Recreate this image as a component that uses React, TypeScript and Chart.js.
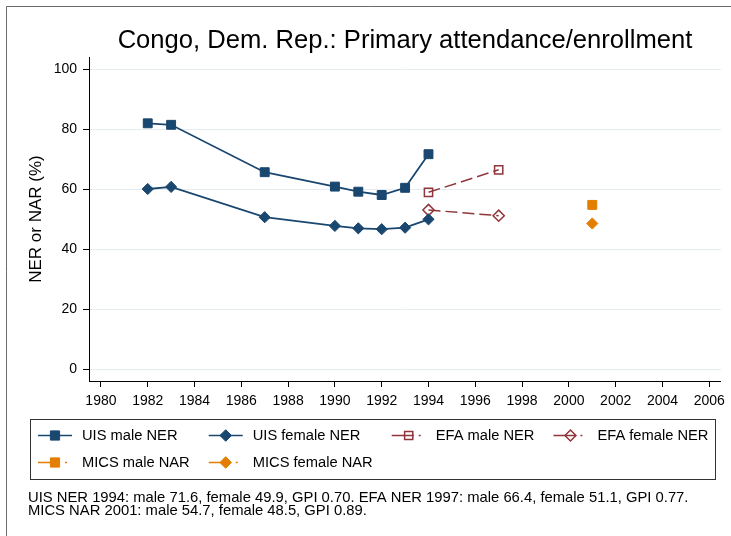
import React, { useEffect, useRef } from "react";
import { Chart, registerables } from "chart.js";

Chart.register(...registerables);

// ---------- data ----------
const titleText = "Congo, Dem. Rep.: Primary attendance/enrollment";
const yAxisTitle = "NER or NAR (%)";

const uisYears = [1982, 1983, 1987, 1990, 1991, 1992, 1993, 1994];
const uisMale = [81.9, 81.4, 65.6, 60.8, 59.1, 58.0, 60.4, 71.6];
const uisFemale = [60.0, 60.7, 50.6, 47.7, 46.9, 46.6, 47.1, 49.9];

const efaYears = [1994, 1997];
const efaMale = [58.9, 66.4];
const efaFemale = [53.0, 51.1];

const micsYears = [2001];
const micsMale = [54.7];
const micsFemale = [48.5];

const xTicks = [1980, 1982, 1984, 1986, 1988, 1990, 1992, 1994, 1996, 1998, 2000, 2002, 2004, 2006];
const yTicks = [0, 20, 40, 60, 80, 100];

const seriesLabels = [
  "UIS male NER",
  "UIS female NER",
  "EFA male NER",
  "EFA female NER",
  "MICS male NAR",
  "MICS female NAR",
];

const noteLines = [
  "UIS NER 1994: male 71.6, female 49.9, GPI 0.70. EFA NER 1997: male 66.4, female 51.1, GPI 0.77.",
  "MICS NAR 2001: male 54.7, female 48.5, GPI 0.89.",
];

// ---------- styles ----------
const FONT = '"Liberation Sans", Arial, Helvetica, sans-serif';
const NAVY = "#1a476f";
const MAROON = "#90353b";
const ORANGE = "#e37e00";
const GRID = "#e6edf1";

type Style = { color: string; marker: "square" | "diamond"; filled: boolean; dash: number[] };
const styles: Style[] = [
  { color: NAVY, marker: "square", filled: true, dash: [] },
  { color: NAVY, marker: "diamond", filled: true, dash: [] },
  { color: MAROON, marker: "square", filled: false, dash: [12, 5] },
  { color: MAROON, marker: "diamond", filled: false, dash: [12, 5] },
  { color: ORANGE, marker: "square", filled: true, dash: [12, 5] },
  { color: ORANGE, marker: "diamond", filled: true, dash: [12, 5] },
];

const seriesData: [number[], number[]][] = [
  [uisYears, uisMale],
  [uisYears, uisFemale],
  [efaYears, efaMale],
  [efaYears, efaFemale],
  [micsYears, micsMale],
  [micsYears, micsFemale],
];

function drawMarker(ctx: CanvasRenderingContext2D, st: Style, x: number, y: number) {
  ctx.save();
  ctx.setLineDash([]);
  ctx.beginPath();
  if (st.marker === "square") {
    const h = st.filled ? 4.6 : 4.1;
    ctx.rect(x - h, y - h, 2 * h, 2 * h);
  } else {
    const r = st.filled ? 5.8 : 5.5;
    ctx.moveTo(x - r, y);
    ctx.lineTo(x, y - r);
    ctx.lineTo(x + r, y);
    ctx.lineTo(x, y + r);
    ctx.closePath();
  }
  if (st.filled) {
    ctx.fillStyle = st.color;
    ctx.fill();
    ctx.strokeStyle = st.color;
    ctx.lineWidth = 1;
    ctx.stroke();
  } else {
    ctx.strokeStyle = st.color;
    ctx.lineWidth = 1.5;
    ctx.stroke();
  }
  ctx.restore();
}

const decorPlugin = {
  id: "decor",
  afterDraw(chart: any) {
    const ctx: CanvasRenderingContext2D = chart.ctx;
    const area = chart.chartArea;
    ctx.save();

    // outer frame
    ctx.strokeStyle = "#6b6b6b";
    ctx.lineWidth = 1;
    ctx.setLineDash([]);
    ctx.beginPath();
    ctx.moveTo(6.5, 900);
    ctx.lineTo(6.5, 6.5);
    ctx.lineTo(900, 6.5);
    ctx.stroke();

    // title
    ctx.fillStyle = "#000";
    ctx.font = `25.6px ${FONT}`;
    ctx.textAlign = "center";
    ctx.textBaseline = "alphabetic";
    ctx.fillText(titleText, (area.left + area.right) / 2, 48);

    // y axis title
    ctx.save();
    ctx.translate(40.7, (area.top + area.bottom) / 2);
    ctx.rotate(-Math.PI / 2);
    ctx.font = `17px ${FONT}`;
    ctx.textAlign = "center";
    ctx.fillText(yAxisTitle, 0, 0);
    ctx.restore();

    // legend
    const box = { left: 30, top: 419, right: 715, bottom: 479 };
    ctx.strokeStyle = "#333";
    ctx.lineWidth = 1;
    ctx.strokeRect(box.left + 0.5, box.top + 0.5, box.right - box.left, box.bottom - box.top);

    const legendFont = `14.7px ${FONT}`;
    ctx.font = legendFont;
    const nCols = 4;
    const rowsY = [435, 462];
    const sampleW = 34;
    const sampleGap = 10;
    const colGap = 19;
    const colX: number[] = [];
    let cx = 38;
    for (let c = 0; c < nCols; c++) {
      colX.push(cx);
      let maxW = 0;
      for (let i = c; i < seriesLabels.length; i += nCols) {
        maxW = Math.max(maxW, ctx.measureText(seriesLabels[i]).width);
      }
      cx += sampleW + sampleGap + maxW + colGap;
    }
    seriesLabels.forEach((label, i) => {
      const c = i % nCols;
      const r = Math.floor(i / nCols);
      const x0 = colX[c];
      const y = rowsY[r];
      const st = styles[i];
      ctx.save();
      ctx.strokeStyle = st.color;
      ctx.lineWidth = 1.6;
      ctx.setLineDash(st.dash.length ? [22, 5, 2, 5] : []);
      ctx.beginPath();
      ctx.moveTo(x0, y + 0.5);
      ctx.lineTo(x0 + sampleW, y + 0.5);
      ctx.stroke();
      ctx.restore();
      drawMarker(ctx, st, x0 + 17, y + 0.5);
      ctx.fillStyle = "#000";
      ctx.font = legendFont;
      ctx.textAlign = "left";
      ctx.textBaseline = "middle";
      ctx.fillText(label, x0 + sampleW + sampleGap, y + 1);
    });

    // notes
    ctx.font = `14.8px ${FONT}`;
    ctx.textAlign = "left";
    ctx.textBaseline = "alphabetic";
    ctx.fillStyle = "#000";
    ctx.fillText(noteLines[0], 28, 501.7);
    ctx.fillText(noteLines[1], 28, 515);

    ctx.restore();
  },
};

export default function App() {
  const ref = useRef<HTMLCanvasElement>(null);

  useEffect(() => {
    const canvas = ref.current;
    if (!canvas) return;
    const datasets = seriesData.map(([xs, ys], i) => {
      const st = styles[i];
      return {
        label: seriesLabels[i],
        data: xs.map((x, j) => ({ x, y: ys[j] })),
        borderColor: st.color,
        borderWidth: st.filled && st.dash.length === 0 ? 1.8 : 1.5,
        borderDash: st.dash,
        pointStyle: st.marker === "square" ? "rect" : "rectRot",
        pointRadius: st.marker === "square" ? (st.filled ? 6.3 : 5.8) : 5.6,
        pointBorderWidth: st.filled ? 1 : 1.5,
        pointBackgroundColor: st.filled ? st.color : "rgba(0,0,0,0)",
        pointBorderColor: st.color,
        fill: false,
        tension: 0,
      };
    });

    const chart = new Chart(canvas, {
      type: "line",
      data: { datasets: datasets as any },
      options: {
        responsive: false,
        devicePixelRatio: 1,
        animation: false,
        events: [],
        layout: { padding: { left: 0, top: 57, right: 9, bottom: 115 } },
        plugins: {
          legend: { display: false },
          title: { display: false },
          tooltip: { enabled: false },
        },
        scales: {
          x: {
            type: "linear",
            min: 1979.49,
            max: 2006.5,
            afterBuildTicks: (s: any) => {
              s.ticks = xTicks.map((v) => ({ value: v }));
            },
            afterFit: (s: any) => {
              s.height = 40;
            },
            grid: {
              drawOnChartArea: false,
              drawTicks: true,
              tickLength: 6,
              tickColor: "#000",
              tickWidth: 1,
            },
            border: { display: true, color: "#000", width: 1 },
            ticks: {
              font: { family: FONT, size: 14 },
              color: "#000",
              padding: 6,
              maxRotation: 0,
              autoSkip: false,
              callback: (v: any) => String(v),
            },
          },
          y: {
            type: "linear",
            min: -4,
            max: 104,
            afterBuildTicks: (s: any) => {
              s.ticks = yTicks.map((v) => ({ value: v }));
            },
            afterFit: (s: any) => {
              s.width = 89;
            },
            grid: {
              color: GRID,
              lineWidth: 1,
              drawTicks: true,
              tickLength: 6,
              tickColor: "#000",
              tickWidth: 1,
            },
            border: { display: true, color: "#000", width: 1 },
            ticks: {
              font: { family: FONT, size: 14 },
              color: "#000",
              padding: 6,
              autoSkip: false,
              callback: (v: any) => String(v),
            },
          },
        },
      } as any,
      plugins: [decorPlugin],
    });
    return () => chart.destroy();
  }, []);

  return (
    <div style={{ position: "absolute", left: 0, top: 0, width: 731, height: 536, background: "#fff" }}>
      <canvas ref={ref} width={731} height={536} style={{ display: "block", width: 731, height: 536 }} />
    </div>
  );
}
